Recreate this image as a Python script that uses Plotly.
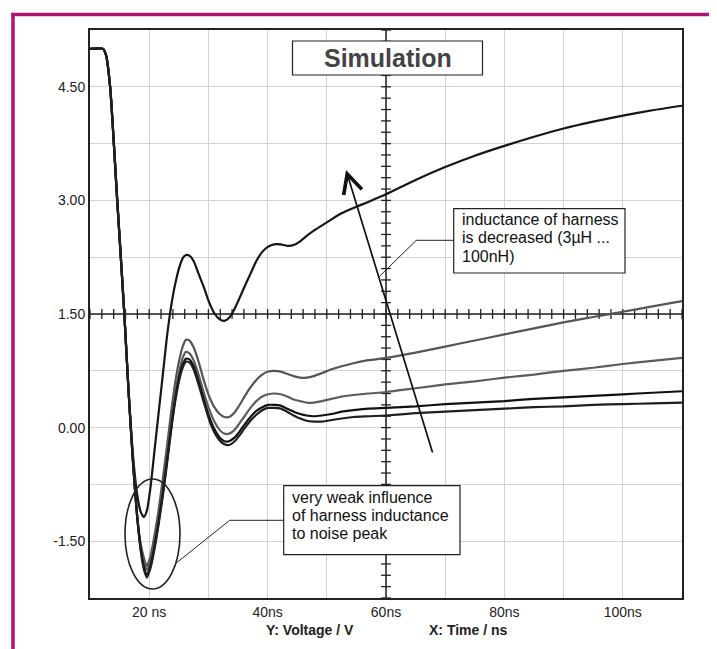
import plotly.graph_objects as go

# ---------------- data ----------------
time_ns = [10, 12.2, 12.7, 13.4, 14.6, 15.8, 16.5, 17.3, 18.0, 18.6, 19.1, 19.6, 20.2, 20.9, 21.6,
           22.3, 23.0, 23.7, 24.4, 25.1, 25.7, 26.2, 26.8, 27.5, 28.3, 29.2, 30.1, 31.0, 31.9, 32.7,
           33.5, 34.3, 35.2, 36.1, 37.1, 38.1, 39.1, 40.1, 41.1, 42.2, 43.3, 44.4, 45.5, 46.6, 47.8,
           49.2, 50.8, 52.5, 54.5, 57, 60, 65, 70, 75, 80, 85, 90, 95, 100, 105, 110]

v_a = [5.0, 5.0, 4.92, 4.5, 3.0, 1.5, 0.5, -0.4, -0.9, -1.12, -1.18, -1.1, -0.8, -0.3, 0.2,
       0.7, 1.2, 1.6, 1.9, 2.12, 2.24, 2.28, 2.27, 2.2, 2.04, 1.86, 1.66, 1.51, 1.43, 1.41,
       1.45, 1.55, 1.7, 1.86, 2.03, 2.2, 2.32, 2.39, 2.42, 2.42, 2.4, 2.41, 2.46, 2.53, 2.6,
       2.67, 2.75, 2.83, 2.9, 2.98, 3.08, 3.27, 3.44, 3.59, 3.72, 3.84, 3.95, 4.04, 4.12, 4.19, 4.25]

v_b = [5.0, 5.0, 4.92, 4.5, 3.0, 1.5, 0.5, -0.5, -1.2, -1.55, -1.72, -1.83, -1.7, -1.42, -1.08,
       -0.68, -0.25, 0.2, 0.6, 0.9, 1.08, 1.16, 1.15, 1.06, 0.88, 0.63, 0.42, 0.27, 0.18, 0.14,
       0.14, 0.19, 0.29, 0.41, 0.53, 0.63, 0.7, 0.74, 0.75, 0.74, 0.71, 0.68, 0.66, 0.66, 0.68,
       0.72, 0.77, 0.81, 0.85, 0.89, 0.92, 0.99, 1.07, 1.15, 1.23, 1.31, 1.39, 1.46, 1.53, 1.6, 1.67]

v_c = [5.0, 5.0, 4.92, 4.5, 3.0, 1.5, 0.5, -0.5, -1.2, -1.6, -1.78, -1.88, -1.76, -1.5, -1.17,
       -0.8, -0.38, 0.06, 0.45, 0.75, 0.93, 1.0, 0.98, 0.89, 0.71, 0.47, 0.25, 0.08, -0.03, -0.08,
       -0.08, -0.04, 0.05, 0.15, 0.26, 0.35, 0.41, 0.44, 0.45, 0.44, 0.41, 0.37, 0.35, 0.33, 0.33,
       0.35, 0.38, 0.41, 0.43, 0.45, 0.47, 0.52, 0.57, 0.61, 0.66, 0.7, 0.75, 0.79, 0.84, 0.88, 0.92]

v_d = [5.0, 5.0, 4.92, 4.5, 3.0, 1.5, 0.5, -0.5, -1.2, -1.62, -1.84, -1.95, -1.83, -1.57, -1.24,
       -0.87, -0.45, -0.01, 0.38, 0.67, 0.84, 0.91, 0.9, 0.81, 0.62, 0.38, 0.15, -0.02, -0.13, -0.18,
       -0.18, -0.14, -0.06, 0.04, 0.14, 0.22, 0.27, 0.3, 0.3, 0.29, 0.25, 0.21, 0.18, 0.16, 0.15,
       0.16, 0.18, 0.21, 0.23, 0.25, 0.26, 0.28, 0.31, 0.33, 0.35, 0.38, 0.4, 0.42, 0.44, 0.46, 0.48]

v_e = [5.0, 5.0, 4.92, 4.5, 3.0, 1.5, 0.5, -0.5, -1.2, -1.64, -1.87, -1.98, -1.86, -1.6, -1.27,
       -0.9, -0.48, -0.04, 0.35, 0.64, 0.8, 0.87, 0.86, 0.77, 0.58, 0.34, 0.11, -0.06, -0.17, -0.22,
       -0.23, -0.19, -0.11, -0.01, 0.09, 0.17, 0.23, 0.26, 0.26, 0.25, 0.21, 0.16, 0.12, 0.09, 0.08,
       0.08, 0.1, 0.12, 0.14, 0.15, 0.16, 0.19, 0.21, 0.23, 0.25, 0.27, 0.28, 0.3, 0.31, 0.32, 0.33]

series = [("A", v_a, "#161616"), ("B", v_b, "#555555"), ("C", v_c, "#5c5c5c"),
          ("D", v_d, "#111111"), ("E", v_e, "#1e1e1e")]

x_grid = [10, 20, 30, 40, 50, 60, 70, 80, 90, 100, 110]
x_labels = {20: "20 ns", 40: "40ns", 60: "60ns", 80: "80ns", 100: "100ns"}
y_grid = [-2.25, -1.5, -0.75, 0.0, 0.75, 1.5, 2.25, 3.0, 3.75, 4.5, 5.25]
y_labels = {-1.5: "-1.50", 0.0: "0.00", 1.5: "1.50", 3.0: "3.00", 4.5: "4.50"}
x_minor = [10 + 2 * i for i in range(51)]
y_minor = [round(-2.25 + 0.15 * i, 2) for i in range(51)]
x_cross = 60
y_cross = 1.5

# ---------------- layout geometry (pixels) ----------------
L, R, T, B = 82, 674, 22, 590
W, H = R - L, B - T


def fx(p):
    return (p - L) / W


def fy(p):
    return (B - p) / H


FONT = "Liberation Sans, Arial, Helvetica, sans-serif"

fig = go.Figure()

# crossing axes
fig.add_trace(go.Scatter(x=[x_cross, x_cross], y=[y_grid[0], y_grid[-1]], mode="lines",
                         line=dict(color="#222", width=1.5), hoverinfo="skip", showlegend=False))
fig.add_trace(go.Scatter(x=[x_grid[0], x_grid[-1]], y=[y_cross, y_cross], mode="lines",
                         line=dict(color="#222", width=1.5), hoverinfo="skip", showlegend=False))
fig.add_trace(go.Scatter(x=x_minor, y=[y_cross] * len(x_minor), mode="markers",
                         marker=dict(symbol="line-ns", size=7, line=dict(color="#222", width=1.3)),
                         hoverinfo="skip", showlegend=False))
fig.add_trace(go.Scatter(x=[x_cross] * len(y_minor), y=y_minor, mode="markers",
                         marker=dict(symbol="line-ew", size=7, line=dict(color="#222", width=1.3)),
                         hoverinfo="skip", showlegend=False))

for name, vals, col in series:
    fig.add_trace(go.Scatter(x=time_ns, y=vals, mode="lines", name=name,
                             line=dict(color=col, width=2.2, shape="spline", smoothing=0.6),
                             showlegend=False))

shapes = []
# magenta page frame (top and left)
MAG = "#b0136f"
shapes.append(dict(type="line", xref="paper", yref="paper", x0=fx(5), x1=fx(5), y0=fy(660), y1=fy(5),
                   line=dict(color=MAG, width=3.5), layer="above"))
shapes.append(dict(type="line", xref="paper", yref="paper", x0=fx(3.3), x1=fx(730), y0=fy(6.5), y1=fy(6.5),
                   line=dict(color=MAG, width=3.5), layer="above"))
# Simulation box
shapes.append(dict(type="rect", xref="paper", yref="paper", x0=fx(284.5), x1=fx(474.5), y0=fy(67), y1=fy(33),
                   line=dict(color="#222", width=1.2), fillcolor="white", layer="above"))
# annotation box 1
shapes.append(dict(type="rect", xref="paper", yref="paper", x0=fx(445.7), x1=fx(617), y0=fy(265), y1=fy(200.7),
                   line=dict(color="#222", width=1.2), fillcolor="white", layer="above"))
shapes.append(dict(type="path", xref="paper", yref="paper",
                   path="M {} {} L {} {} L {} {}".format(fx(445.7), fy(232.3), fx(408.3), fy(232.3),
                                                        fx(371.5), fy(268.3)),
                   line=dict(color="#222", width=1), layer="above"))
# annotation box 2
shapes.append(dict(type="rect", xref="paper", yref="paper", x0=fx(275.7), x1=fx(452), y0=fy(546.7), y1=fy(477.7),
                   line=dict(color="#222", width=1.2), fillcolor="white", layer="above"))
shapes.append(dict(type="path", xref="paper", yref="paper",
                   path="M {} {} L {} {} L {} {}".format(fx(275.7), fy(512.3), fx(221.7), fy(512.3),
                                                        fx(168.3), fy(555)),
                   line=dict(color="#222", width=1), layer="above"))
# ellipse round the noise peak
shapes.append(dict(type="circle", xref="paper", yref="paper", x0=fx(117), x1=fx(172), y0=fy(581), y1=fy(471),
                   line=dict(color="#222", width=1.6), layer="above"))

annotations = []
annotations.append(dict(xref="paper", yref="paper", x=fx(379.5), y=fy(50), text="<b>Simulation</b>",
                        showarrow=False, font=dict(family=FONT, size=25, color="#444"),
                        xanchor="center", yanchor="middle"))
for i, line in enumerate(["inductance of harness", "is decreased (3µH ...", "100nH)"]):
    annotations.append(dict(xref="paper", yref="paper", x=fx(452), y=fy(211.7 + 18.3 * i), text=line,
                            showarrow=False, font=dict(family=FONT, size=16, color="#111"),
                            xanchor="left", yanchor="middle"))
for i, line in enumerate(["very weak influence", "of harness inductance", "to noise peak"]):
    annotations.append(dict(xref="paper", yref="paper", x=fx(281.7), y=fy(489 + 18.3 * i), text=line,
                            showarrow=False, font=dict(family=FONT, size=16, color="#111"),
                            xanchor="left", yanchor="middle"))
# big arrow
annotations.append(dict(xref="paper", yref="paper", x=fx(338), y=fy(162), ax=87, ay=284, text="",
                        showarrow=True, arrowhead=5, arrowsize=2.2, arrowwidth=1.7, arrowcolor="#111"))
# axis captions
annotations.append(dict(xref="paper", yref="paper", x=fx(302), y=fy(622), text="<b>Y: Voltage / V</b>",
                        showarrow=False, font=dict(family=FONT, size=14, color="#222"),
                        xanchor="center", yanchor="middle"))
annotations.append(dict(xref="paper", yref="paper", x=fx(460), y=fy(622), text="<b>X: Time / ns</b>",
                        showarrow=False, font=dict(family=FONT, size=14, color="#222"),
                        xanchor="center", yanchor="middle"))

fig.update_layout(
    width=717, height=649,
    margin=dict(l=L, r=717 - R, t=T, b=649 - B),
    paper_bgcolor="white", plot_bgcolor="white",
    shapes=shapes, annotations=annotations,
    font=dict(family=FONT, size=14, color="#222"),
)
fig.update_xaxes(range=[x_grid[0], x_grid[-1]], tickvals=x_grid,
                 ticktext=[x_labels.get(v, "") for v in x_grid],
                 showgrid=True, gridcolor="#d2d2d2", gridwidth=1, zeroline=False,
                 showline=True, linecolor="#222", linewidth=2, mirror=True, ticks="",
                 tickfont=dict(family=FONT, size=14, color="#222"))
fig.update_yaxes(range=[y_grid[0], y_grid[-1]], tickvals=y_grid,
                 ticktext=[y_labels.get(v, "") for v in y_grid],
                 showgrid=True, gridcolor="#d2d2d2", gridwidth=1, zeroline=False,
                 showline=True, linecolor="#222", linewidth=2, mirror=True, ticks="",
                 tickfont=dict(family=FONT, size=14, color="#222"))

fig.write_html("out.html")
